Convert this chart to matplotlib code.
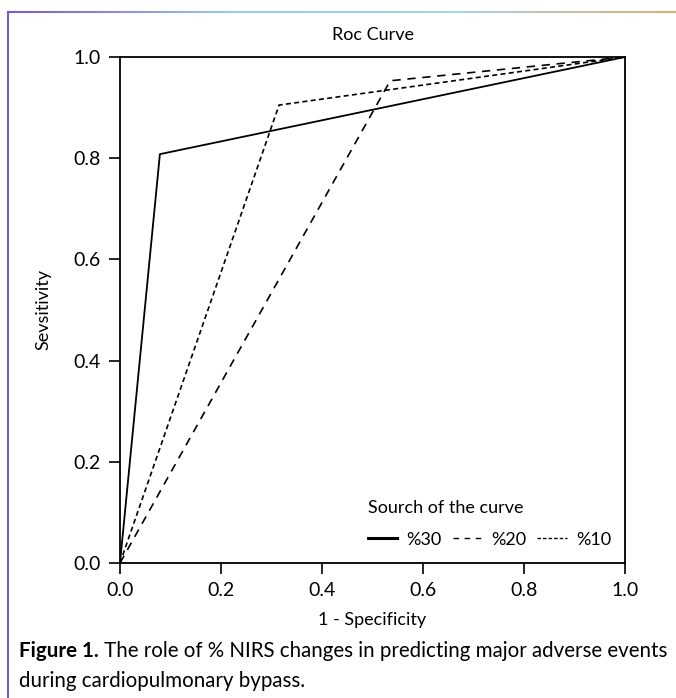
import matplotlib
matplotlib.use("Agg")
import matplotlib.pyplot as plt
import numpy as np
from matplotlib.collections import LineCollection
from matplotlib.lines import Line2D
from matplotlib.colors import LinearSegmentedColormap

plt.rcParams['font.family'] = ['Lato', 'DejaVu Sans']

# Data
fpr_30 = [0.0, 0.079, 1.0]
tpr_30 = [0.0, 0.808, 1.0]
fpr_20 = [0.0, 0.535, 1.0]
tpr_20 = [0.0, 0.953, 1.0]
fpr_10 = [0.0, 0.315, 1.0]
tpr_10 = [0.0, 0.905, 1.0]
series_labels = ['%30', '%20', '%10']
ticks = [0.0, 0.2, 0.4, 0.6, 0.8, 1.0]
tick_labels = ['0.0', '0.2', '0.4', '0.6', '0.8', '1.0']

W, H = 676, 698
fig = plt.figure(figsize=(W / 100, H / 100), dpi=100)
ax = fig.add_axes([120 / W, 1 - 563 / H, 505 / W, 506 / H])

ax.plot(fpr_30, tpr_30, color='black', lw=1.3, linestyle='-', label=series_labels[0])
ax.plot(fpr_20, tpr_20, color='black', lw=1.2, linestyle=(0, (5, 4)), label=series_labels[1])
ax.plot(fpr_10, tpr_10, color='black', lw=1.2, linestyle=(0, (3, 2)), label=series_labels[2])

ax.set_xlim(0, 1)
ax.set_ylim(0, 1)
ax.set_xticks(ticks)
ax.set_xticklabels(tick_labels)
ax.set_yticks(ticks)
ax.set_yticklabels(tick_labels)
ax.tick_params(direction='out', length=8, width=1.2, labelsize=14, colors='black', pad=6)
for s in ax.spines.values():
    s.set_linewidth(1.3)

ax.set_title('Roc Curve', fontsize=13, pad=12)
ax.set_xlabel('1 - Specificity', fontsize=13, labelpad=9)
ax.set_ylabel('Sevsitivity', fontsize=13, labelpad=16)

handles = [Line2D([], [], color='black', lw=2.2, linestyle='-'),
           Line2D([], [], color='black', lw=1.0, linestyle=(0, (4, 4))),
           Line2D([], [], color='black', lw=1.0, linestyle=(0, (2.5, 1.5)))]
leg = ax.legend(handles, series_labels, title='Sourch of the curve', ncol=3,
                frameon=False, loc='lower right', bbox_to_anchor=(1.005, -0.002),
                fontsize=13, title_fontsize=13, handlelength=1.65,
                handletextpad=0.5, columnspacing=0.6, alignment='left')
leg._legend_box.sep = 11

# Frame decoration: left purple border, top gradient line
fig.add_artist(Line2D([8 / W, 8 / W], [0, 1 - 12 / H], color='#7b5cc2', lw=1.5,
                      transform=fig.transFigure))
xs = np.linspace(8 / W, 1, 200)
pts = np.array([xs, np.full_like(xs, 1 - 12 / H)]).T.reshape(-1, 1, 2)
segs = np.concatenate([pts[:-1], pts[1:]], axis=1)
cmap = LinearSegmentedColormap.from_list('g', ['#7b5cc2', '#9ec9e3', '#a8d4e4', '#d9b07a'])
lc = LineCollection(segs, cmap=cmap, lw=1.5, transform=fig.transFigure)
lc.set_array(np.linspace(0, 1, len(segs)))
fig.add_artist(lc)

# Caption
t1 = fig.text(19 / W, 1 - 657 / H, 'Figure 1.', fontsize=14.8, fontweight='bold', va='baseline')
ax.annotate(' The role of % NIRS changes in predicting major adverse events',
            xy=(1, 0), xycoords=t1, fontsize=14.8, va='bottom', ha='left',
            annotation_clip=False)
fig.text(19 / W, 1 - 687 / H, 'during cardiopulmonary bypass.', fontsize=14.8, va='baseline')

fig.savefig('out.png', dpi=100)
